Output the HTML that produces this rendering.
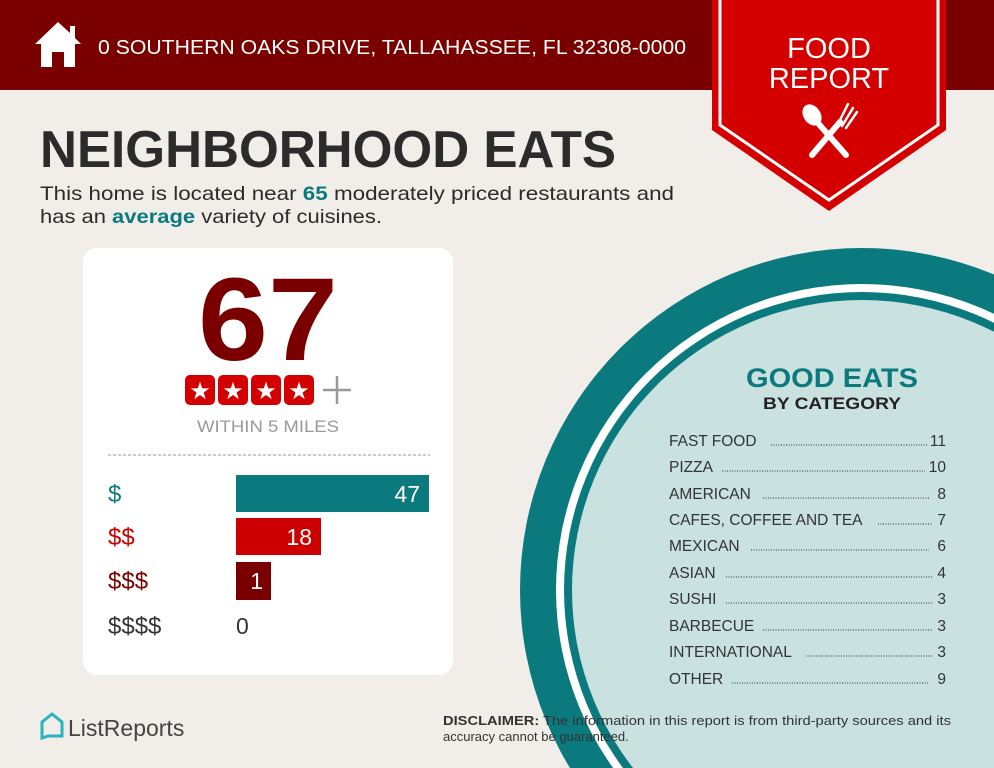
<!DOCTYPE html>
<html><head><meta charset="utf-8"><style>
html,body{margin:0;padding:0;background:#f1ede9;width:994px;height:768px;overflow:hidden;}
svg{display:block;font-family:"Liberation Sans",sans-serif;}
</style></head><body>
<svg width="994" height="768" viewBox="0 0 994 768" xmlns="http://www.w3.org/2000/svg">
<rect width="994" height="768" fill="#f1ede9"/>
<rect width="994" height="90" fill="#7a0000"/>
<path d="M58 22 L35 44 L41 44 L41 67 L52 67 L52 52 L64 52 L64 67 L75 67 L75 44 L81 44 L75 38 L75 26 L70 26 L70 33 Z" fill="#fff"/>
<text x="98" y="54" font-size="20.5" fill="#fff" textLength="588" lengthAdjust="spacingAndGlyphs">0 SOUTHERN OAKS DRIVE, TALLAHASSEE, FL 32308-0000</text>
<path d="M712 0 L946 0 L946 130 L829 211 L712 130 Z" fill="#d40000"/>
<path d="M720 0 L720 125 L829 200 L938 125 L938 0" fill="none" stroke="#fff" stroke-width="3"/>
<text x="829" y="58" font-size="29" fill="#fff" text-anchor="middle">FOOD</text>
<text x="829" y="88" font-size="29" fill="#fff" text-anchor="middle">REPORT</text>
<g stroke="#fff" stroke-linecap="round" fill="#fff">
<ellipse cx="812" cy="115" rx="8" ry="11" transform="rotate(-35 812 115)"/>
<line x1="817" y1="122" x2="846" y2="155" stroke-width="6"/>
<line x1="812" y1="155" x2="840" y2="122" stroke-width="6"/>
<path d="M838 124 L848 104 M842 126 L853 108 M846 128 L857 112" stroke-width="2.5"/>
</g>
<text x="40" y="167" font-size="52" font-weight="bold" fill="#2b2b2b" textLength="576" lengthAdjust="spacingAndGlyphs">NEIGHBORHOOD EATS</text>
<text x="40" y="200" font-size="19.5" fill="#2b2b2b" textLength="634" lengthAdjust="spacingAndGlyphs">This home is located near <tspan font-weight="bold" fill="#0b7a7e">65</tspan> moderately priced restaurants and</text>
<text x="40" y="223" font-size="19.5" fill="#2b2b2b" textLength="342" lengthAdjust="spacingAndGlyphs">has an <tspan font-weight="bold" fill="#0b7a7e">average</tspan> variety of cuisines.</text>
<circle cx="862" cy="590" r="342" fill="#0b7a7e"/>
<circle cx="862" cy="590" r="306" fill="#fff"/>
<circle cx="862" cy="590" r="298" fill="#0b7a7e"/>
<circle cx="862" cy="590" r="290" fill="#c9e1df"/>
<text x="832" y="387" font-size="27" font-weight="bold" fill="#0b7a7e" text-anchor="middle" textLength="172" lengthAdjust="spacingAndGlyphs">GOOD EATS</text>
<text x="832" y="409" font-size="17" font-weight="bold" fill="#222" text-anchor="middle" textLength="138" lengthAdjust="spacingAndGlyphs">BY CATEGORY</text>
<g font-size="15.5" fill="#333">
<text x="669" y="446">FAST FOOD</text><line x1="771" y1="445" x2="928" y2="445" stroke="#333" stroke-dasharray="1 1.5"/><text x="946" y="446" text-anchor="end">11</text>
<text x="669" y="472">PIZZA</text><line x1="722" y1="471" x2="925" y2="471" stroke="#333" stroke-dasharray="1 1.5"/><text x="946" y="472" text-anchor="end">10</text>
<text x="669" y="499">AMERICAN</text><line x1="763" y1="498" x2="929" y2="498" stroke="#333" stroke-dasharray="1 1.5"/><text x="946" y="499" text-anchor="end">8</text>
<text x="669" y="525">CAFES, COFFEE AND TEA</text><line x1="878" y1="524" x2="933" y2="524" stroke="#333" stroke-dasharray="1 1.5"/><text x="946" y="525" text-anchor="end">7</text>
<text x="669" y="551">MEXICAN</text><line x1="751" y1="550" x2="929" y2="550" stroke="#333" stroke-dasharray="1 1.5"/><text x="946" y="551" text-anchor="end">6</text>
<text x="669" y="578">ASIAN</text><line x1="726" y1="577" x2="932" y2="577" stroke="#333" stroke-dasharray="1 1.5"/><text x="946" y="578" text-anchor="end">4</text>
<text x="669" y="604">SUSHI</text><line x1="726" y1="603" x2="932" y2="603" stroke="#333" stroke-dasharray="1 1.5"/><text x="946" y="604" text-anchor="end">3</text>
<text x="669" y="631">BARBECUE</text><line x1="763" y1="630" x2="932" y2="630" stroke="#333" stroke-dasharray="1 1.5"/><text x="946" y="631" text-anchor="end">3</text>
<text x="669" y="657">INTERNATIONAL</text><line x1="806" y1="656" x2="932" y2="656" stroke="#333" stroke-dasharray="1 1.5"/><text x="946" y="657" text-anchor="end">3</text>
<text x="669" y="684">OTHER</text><line x1="732" y1="683" x2="929" y2="683" stroke="#333" stroke-dasharray="1 1.5"/><text x="946" y="684" text-anchor="end">9</text>
</g>
<rect x="83" y="248" width="370" height="427" rx="14" fill="#fff"/>
<text x="268" y="360" font-size="118" font-weight="bold" fill="#7a0000" text-anchor="middle" textLength="140" lengthAdjust="spacingAndGlyphs">67</text>
<g fill="#d40000">
<rect x="185" y="375" width="30" height="30" rx="5"/><rect x="218" y="375" width="30" height="30" rx="5"/><rect x="251" y="375" width="30" height="30" rx="5"/><rect x="284" y="375" width="30" height="30" rx="5"/>
</g>
<g fill="#fff" font-size="24" text-anchor="middle"><text x="200" y="399">★</text><text x="233" y="399">★</text><text x="266" y="399">★</text><text x="299" y="399">★</text></g>
<path d="M337 376 V404 M323 390 H351" stroke="#999" stroke-width="2.5"/>
<text x="268" y="432" font-size="17" fill="#999" text-anchor="middle" textLength="142" lengthAdjust="spacingAndGlyphs">WITHIN 5 MILES</text>
<line x1="108" y1="455" x2="430" y2="455" stroke="#999" stroke-dasharray="3 2"/>
<rect x="236" y="475" width="193" height="37" fill="#0b7a7e"/>
<rect x="236" y="518" width="85" height="37" fill="#cc0000"/>
<rect x="236" y="562" width="35" height="38" fill="#7a0000"/>
<g font-size="23" fill="#fff" text-anchor="end"><text x="420" y="502">47</text><text x="312" y="545">18</text><text x="263" y="589">1</text></g>
<text x="236" y="634" font-size="23" fill="#333">0</text>
<g font-size="24"><text x="108" y="502" fill="#0b7a7e">$</text><text x="108" y="545" fill="#cc0000">$$</text><text x="108" y="589" fill="#7a0000">$$$</text><text x="108" y="634" fill="#333">$$$$</text></g>
<path d="M42 722 L52 714 L62 722 L62 736 L48 736 L42 738 Z" fill="none" stroke="#27b3c0" stroke-width="3"/>
<text x="68" y="736" font-size="23" fill="#444">ListReports</text>
<text x="443" y="725" font-size="13" fill="#333" textLength="508" lengthAdjust="spacingAndGlyphs"><tspan font-weight="bold">DISCLAIMER:</tspan> The information in this report is from third-party sources and its</text>
<text x="443" y="741" font-size="13" fill="#333">accuracy cannot be guaranteed.</text>
</svg>
</body></html>
